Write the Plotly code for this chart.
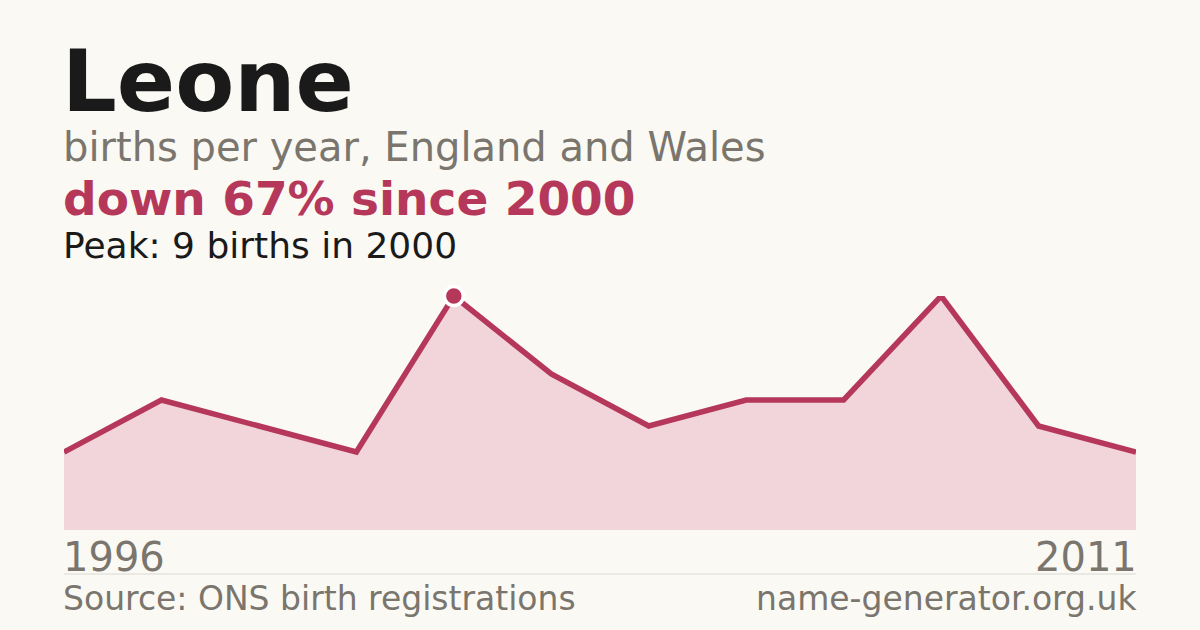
import plotly.graph_objects as go

W, H = 1200, 630

name = "Leone"
subtitle = "births per year, England and Wales"
headline = "down 67% since 2000"
peak_note = "Peak: 9 births in 2000"
source = "Source: ONS birth registrations"
site = "name-generator.org.uk"

years = ["1996", "1997", "1998", "1999", "2000", "2002",
         "2004", "2006", "2007", "2009", "2010", "2011"]
births = [3, 5, 4, 3, 9, 6, 4, 5, 5, 9, 4, 3]
peak_year = "2000"
peak_value = 9

BG = "#faf9f4"
RED = "#b5385a"
FILL = "#f2d5db"
GREY = "#7a756d"
DARK = "#1a1a1a"
FONT = "DejaVu Sans"


def px(x):
    return x / W


def py(y):
    return 1 - y / H


fig = go.Figure()

fig.add_trace(go.Scatter(
    x=years, y=births,
    mode="lines",
    line=dict(color=RED, width=5.5),
    fill="tozeroy", fillcolor=FILL,
    hoverinfo="skip",
))

# peak marker
fig.add_trace(go.Scatter(
    x=[peak_year], y=[peak_value],
    mode="markers",
    marker=dict(color=RED, size=19, line=dict(color="white", width=3.5)),
    cliponaxis=False,
    hoverinfo="skip",
))


def text(s, x, y, size, color, bold=False, xanchor="left"):
    fig.add_annotation(
        text="<b>%s</b>" % s if bold else s,
        x=px(x), y=py(y), xref="paper", yref="paper",
        xanchor=xanchor, yanchor="middle", showarrow=False, borderpad=0,
        font=dict(family=FONT, size=size, color=color),
    )


text(name, 61, 81, 86, DARK, bold=True)
text(subtitle, 62, 147, 40, GREY)
text(headline, 62, 198, 47, RED, bold=True)
text(peak_note, 62, 246, 36, DARK)
text(years[0], 62, 557, 40, GREY)
text(years[-1], 1138, 557, 40, GREY, xanchor="right")
text(source, 62, 598, 33, GREY)
text(site, 1138, 598, 33, GREY, xanchor="right")

fig.add_shape(type="line", xref="paper", yref="paper",
              x0=px(64), x1=px(1136), y0=py(574), y1=py(574),
              line=dict(color="#dcd9d2", width=1))

fig.update_layout(
    width=W, height=H,
    margin=dict(l=0, r=0, t=0, b=0),
    paper_bgcolor=BG, plot_bgcolor=BG,
    showlegend=False,
    xaxis=dict(domain=[px(64), px(1136)], type="category",
               range=[0, len(years) - 1], visible=False, fixedrange=True),
    yaxis=dict(domain=[py(530), py(296)], range=[0, peak_value],
               visible=False, fixedrange=True),
)

fig.write_html("out.html", config={"displayModeBar": False},
               post_script="document.body.style.margin='0';")
